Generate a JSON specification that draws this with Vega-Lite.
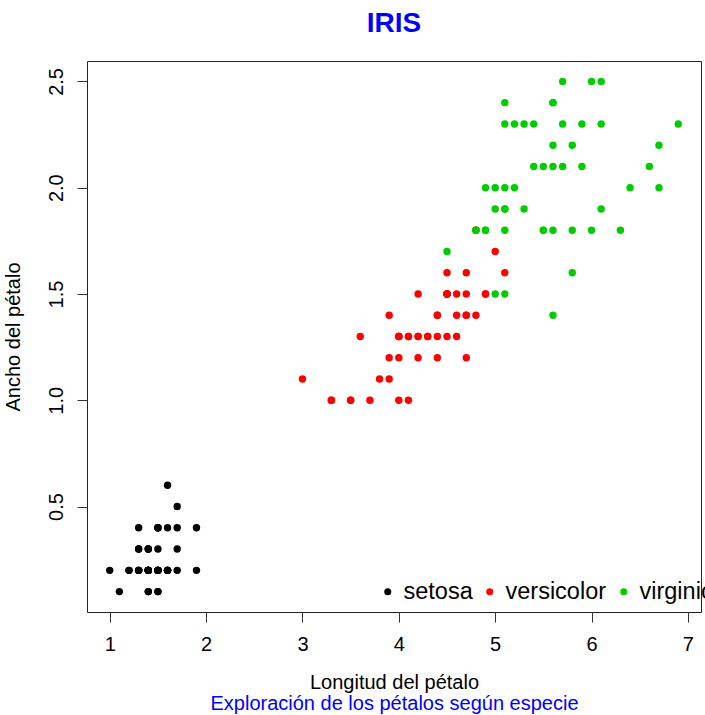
{
  "$schema": "https://vega.github.io/schema/vega-lite/v6.json",
  "autosize": "none",
  "width": 614,
  "height": 551,
  "padding": {"left": 87, "top": 61, "right": 4, "bottom": 103},
  "background": "white",
  "config": {
    "font": "Liberation Sans",
    "view": {"stroke": "#222", "strokeWidth": 1},
    "axis": {"grid": false, "domain": false, "tickColor": "#333", "tickSize": 10, "tickWidth": 1, "labelColor": "black", "labelFontSize": 20, "titleFontSize": 20, "titleFontWeight": "normal", "titleColor": "black", "labelFont": "Liberation Sans", "titleFont": "Liberation Sans"}
  },
  "title": {"text": "IRIS", "color": "#0000FF", "fontSize": 28, "fontWeight": "bold", "font": "Liberation Sans", "anchor": "middle", "baseline": "alphabetic", "offset": 28, "dy": 27},
  "data": {"values": [
    {"L":1.4,"W":0.2,"Especie":"setosa"},{"L":1.4,"W":0.2,"Especie":"setosa"},{"L":1.3,"W":0.2,"Especie":"setosa"},{"L":1.5,"W":0.2,"Especie":"setosa"},{"L":1.4,"W":0.2,"Especie":"setosa"},
    {"L":1.7,"W":0.4,"Especie":"setosa"},{"L":1.4,"W":0.3,"Especie":"setosa"},{"L":1.5,"W":0.2,"Especie":"setosa"},{"L":1.4,"W":0.2,"Especie":"setosa"},{"L":1.5,"W":0.1,"Especie":"setosa"},
    {"L":1.5,"W":0.2,"Especie":"setosa"},{"L":1.6,"W":0.2,"Especie":"setosa"},{"L":1.4,"W":0.1,"Especie":"setosa"},{"L":1.1,"W":0.1,"Especie":"setosa"},{"L":1.2,"W":0.2,"Especie":"setosa"},
    {"L":1.5,"W":0.4,"Especie":"setosa"},{"L":1.3,"W":0.4,"Especie":"setosa"},{"L":1.4,"W":0.3,"Especie":"setosa"},{"L":1.7,"W":0.3,"Especie":"setosa"},{"L":1.5,"W":0.3,"Especie":"setosa"},
    {"L":1.7,"W":0.2,"Especie":"setosa"},{"L":1.5,"W":0.4,"Especie":"setosa"},{"L":1.0,"W":0.2,"Especie":"setosa"},{"L":1.7,"W":0.5,"Especie":"setosa"},{"L":1.9,"W":0.2,"Especie":"setosa"},
    {"L":1.6,"W":0.2,"Especie":"setosa"},{"L":1.6,"W":0.4,"Especie":"setosa"},{"L":1.5,"W":0.2,"Especie":"setosa"},{"L":1.4,"W":0.2,"Especie":"setosa"},{"L":1.6,"W":0.2,"Especie":"setosa"},
    {"L":1.6,"W":0.2,"Especie":"setosa"},{"L":1.5,"W":0.4,"Especie":"setosa"},{"L":1.5,"W":0.1,"Especie":"setosa"},{"L":1.4,"W":0.2,"Especie":"setosa"},{"L":1.5,"W":0.2,"Especie":"setosa"},
    {"L":1.2,"W":0.2,"Especie":"setosa"},{"L":1.3,"W":0.2,"Especie":"setosa"},{"L":1.4,"W":0.1,"Especie":"setosa"},{"L":1.3,"W":0.2,"Especie":"setosa"},{"L":1.5,"W":0.2,"Especie":"setosa"},
    {"L":1.3,"W":0.3,"Especie":"setosa"},{"L":1.3,"W":0.3,"Especie":"setosa"},{"L":1.3,"W":0.2,"Especie":"setosa"},{"L":1.6,"W":0.6,"Especie":"setosa"},{"L":1.9,"W":0.4,"Especie":"setosa"},
    {"L":1.4,"W":0.3,"Especie":"setosa"},{"L":1.6,"W":0.2,"Especie":"setosa"},{"L":1.4,"W":0.2,"Especie":"setosa"},{"L":1.5,"W":0.2,"Especie":"setosa"},{"L":1.4,"W":0.2,"Especie":"setosa"},
    {"L":4.7,"W":1.4,"Especie":"versicolor"},{"L":4.5,"W":1.5,"Especie":"versicolor"},{"L":4.9,"W":1.5,"Especie":"versicolor"},{"L":4.0,"W":1.3,"Especie":"versicolor"},{"L":4.6,"W":1.5,"Especie":"versicolor"},
    {"L":4.5,"W":1.3,"Especie":"versicolor"},{"L":4.7,"W":1.6,"Especie":"versicolor"},{"L":3.3,"W":1.0,"Especie":"versicolor"},{"L":4.6,"W":1.3,"Especie":"versicolor"},{"L":3.9,"W":1.4,"Especie":"versicolor"},
    {"L":3.5,"W":1.0,"Especie":"versicolor"},{"L":4.2,"W":1.5,"Especie":"versicolor"},{"L":4.0,"W":1.0,"Especie":"versicolor"},{"L":4.7,"W":1.4,"Especie":"versicolor"},{"L":3.6,"W":1.3,"Especie":"versicolor"},
    {"L":4.4,"W":1.4,"Especie":"versicolor"},{"L":4.5,"W":1.5,"Especie":"versicolor"},{"L":4.1,"W":1.0,"Especie":"versicolor"},{"L":4.5,"W":1.5,"Especie":"versicolor"},{"L":3.9,"W":1.1,"Especie":"versicolor"},
    {"L":4.8,"W":1.8,"Especie":"versicolor"},{"L":4.0,"W":1.3,"Especie":"versicolor"},{"L":4.9,"W":1.5,"Especie":"versicolor"},{"L":4.7,"W":1.2,"Especie":"versicolor"},{"L":4.3,"W":1.3,"Especie":"versicolor"},
    {"L":4.4,"W":1.4,"Especie":"versicolor"},{"L":4.8,"W":1.4,"Especie":"versicolor"},{"L":5.0,"W":1.7,"Especie":"versicolor"},{"L":4.5,"W":1.5,"Especie":"versicolor"},{"L":3.5,"W":1.0,"Especie":"versicolor"},
    {"L":3.8,"W":1.1,"Especie":"versicolor"},{"L":3.7,"W":1.0,"Especie":"versicolor"},{"L":3.9,"W":1.2,"Especie":"versicolor"},{"L":5.1,"W":1.6,"Especie":"versicolor"},{"L":4.5,"W":1.5,"Especie":"versicolor"},
    {"L":4.5,"W":1.6,"Especie":"versicolor"},{"L":4.7,"W":1.5,"Especie":"versicolor"},{"L":4.4,"W":1.3,"Especie":"versicolor"},{"L":4.1,"W":1.3,"Especie":"versicolor"},{"L":4.0,"W":1.3,"Especie":"versicolor"},
    {"L":4.4,"W":1.2,"Especie":"versicolor"},{"L":4.6,"W":1.4,"Especie":"versicolor"},{"L":4.0,"W":1.2,"Especie":"versicolor"},{"L":3.3,"W":1.0,"Especie":"versicolor"},{"L":4.2,"W":1.3,"Especie":"versicolor"},
    {"L":4.2,"W":1.2,"Especie":"versicolor"},{"L":4.2,"W":1.3,"Especie":"versicolor"},{"L":4.3,"W":1.3,"Especie":"versicolor"},{"L":3.0,"W":1.1,"Especie":"versicolor"},{"L":4.1,"W":1.3,"Especie":"versicolor"},
    {"L":6.0,"W":2.5,"Especie":"virginica"},{"L":5.1,"W":1.9,"Especie":"virginica"},{"L":5.9,"W":2.1,"Especie":"virginica"},{"L":5.6,"W":1.8,"Especie":"virginica"},{"L":5.8,"W":2.2,"Especie":"virginica"},
    {"L":6.6,"W":2.1,"Especie":"virginica"},{"L":4.5,"W":1.7,"Especie":"virginica"},{"L":6.3,"W":1.8,"Especie":"virginica"},{"L":5.8,"W":1.8,"Especie":"virginica"},{"L":6.1,"W":2.5,"Especie":"virginica"},
    {"L":5.1,"W":2.0,"Especie":"virginica"},{"L":5.3,"W":1.9,"Especie":"virginica"},{"L":5.5,"W":2.1,"Especie":"virginica"},{"L":5.0,"W":2.0,"Especie":"virginica"},{"L":5.1,"W":2.4,"Especie":"virginica"},
    {"L":5.3,"W":2.3,"Especie":"virginica"},{"L":5.5,"W":1.8,"Especie":"virginica"},{"L":6.7,"W":2.2,"Especie":"virginica"},{"L":6.9,"W":2.3,"Especie":"virginica"},{"L":5.0,"W":1.5,"Especie":"virginica"},
    {"L":5.7,"W":2.3,"Especie":"virginica"},{"L":4.9,"W":2.0,"Especie":"virginica"},{"L":6.7,"W":2.0,"Especie":"virginica"},{"L":4.9,"W":1.8,"Especie":"virginica"},{"L":5.7,"W":2.1,"Especie":"virginica"},
    {"L":6.0,"W":1.8,"Especie":"virginica"},{"L":4.8,"W":1.8,"Especie":"virginica"},{"L":4.9,"W":1.8,"Especie":"virginica"},{"L":5.6,"W":2.1,"Especie":"virginica"},{"L":5.8,"W":1.6,"Especie":"virginica"},
    {"L":6.1,"W":1.9,"Especie":"virginica"},{"L":6.4,"W":2.0,"Especie":"virginica"},{"L":5.6,"W":2.2,"Especie":"virginica"},{"L":5.1,"W":1.5,"Especie":"virginica"},{"L":5.6,"W":1.4,"Especie":"virginica"},
    {"L":6.1,"W":2.3,"Especie":"virginica"},{"L":5.6,"W":2.4,"Especie":"virginica"},{"L":5.5,"W":1.8,"Especie":"virginica"},{"L":4.8,"W":1.8,"Especie":"virginica"},{"L":5.4,"W":2.1,"Especie":"virginica"},
    {"L":5.6,"W":2.4,"Especie":"virginica"},{"L":5.1,"W":2.3,"Especie":"virginica"},{"L":5.1,"W":1.9,"Especie":"virginica"},{"L":5.9,"W":2.3,"Especie":"virginica"},{"L":5.7,"W":2.5,"Especie":"virginica"},
    {"L":5.2,"W":2.3,"Especie":"virginica"},{"L":5.0,"W":1.9,"Especie":"virginica"},{"L":5.2,"W":2.0,"Especie":"virginica"},{"L":5.4,"W":2.3,"Especie":"virginica"},{"L":5.1,"W":1.8,"Especie":"virginica"}
  ]},
  "layer": [
    {
      "mark": {"type": "point", "filled": true, "shape": "circle", "size": 55, "opacity": 1},
      "encoding": {
        "x": {"field": "L", "type": "quantitative", "scale": {"domain": [0.764, 7.136], "nice": false, "zero": false},
          "axis": {"orient": "bottom", "title": "Longitud del pétalo", "values": [1,2,3,4,5,6,7], "format": "d", "labelPadding": 12, "titleX": 307, "titleY": 76, "titleBaseline": "alphabetic", "titleAlign": "center", "titleAnchor": "middle"}},
        "y": {"field": "W", "type": "quantitative", "scale": {"domain": [0.004, 2.596], "nice": false, "zero": false},
          "axis": {"title": "Ancho del pétalo", "values": [0.5,1.0,1.5,2.0,2.5], "format": ".1f", "labelAngle": -90, "labelAlign": "center", "labelBaseline": "alphabetic", "labelPadding": 15, "titleAngle": -90, "titleX": -68, "titleY": 275.5, "titleBaseline": "alphabetic", "titleAlign": "center"}},
        "color": {"field": "Especie", "type": "nominal",
          "scale": {"domain": ["setosa","versicolor","virginica"], "range": ["#000000","#FF0000","#00CD00"]},
          "legend": {"title": null, "orient": "none", "legendX": 289, "legendY": 519, "direction": "horizontal", "columns": 3, "gridAlign": "none", "columnPadding": 5, "padding": 0, "labelFontSize": 23.5, "labelOffset": 4, "labelColor": "black", "labelFont": "Liberation Sans", "symbolType": "circle", "symbolSize": 50, "symbolStrokeWidth": 0, "labelLimit": 300}}
      }
    },
    {
      "mark": {"type": "point", "opacity": 0},
      "encoding": {
        "x": {"field": "L", "type": "quantitative", "scale": {"domain": [0.764, 7.136], "nice": false, "zero": false},
          "axis": {"orient": "bottom", "title": "Exploración de los pétalos según especie", "titleColor": "#0000FF", "labels": false, "ticks": false, "domain": false, "titleX": 307, "titleY": 97, "titleBaseline": "alphabetic", "titleAlign": "center", "titleAnchor": "middle"}}
      }
    }
  ],
  "resolve": {"axis": {"x": "independent"}}
}
